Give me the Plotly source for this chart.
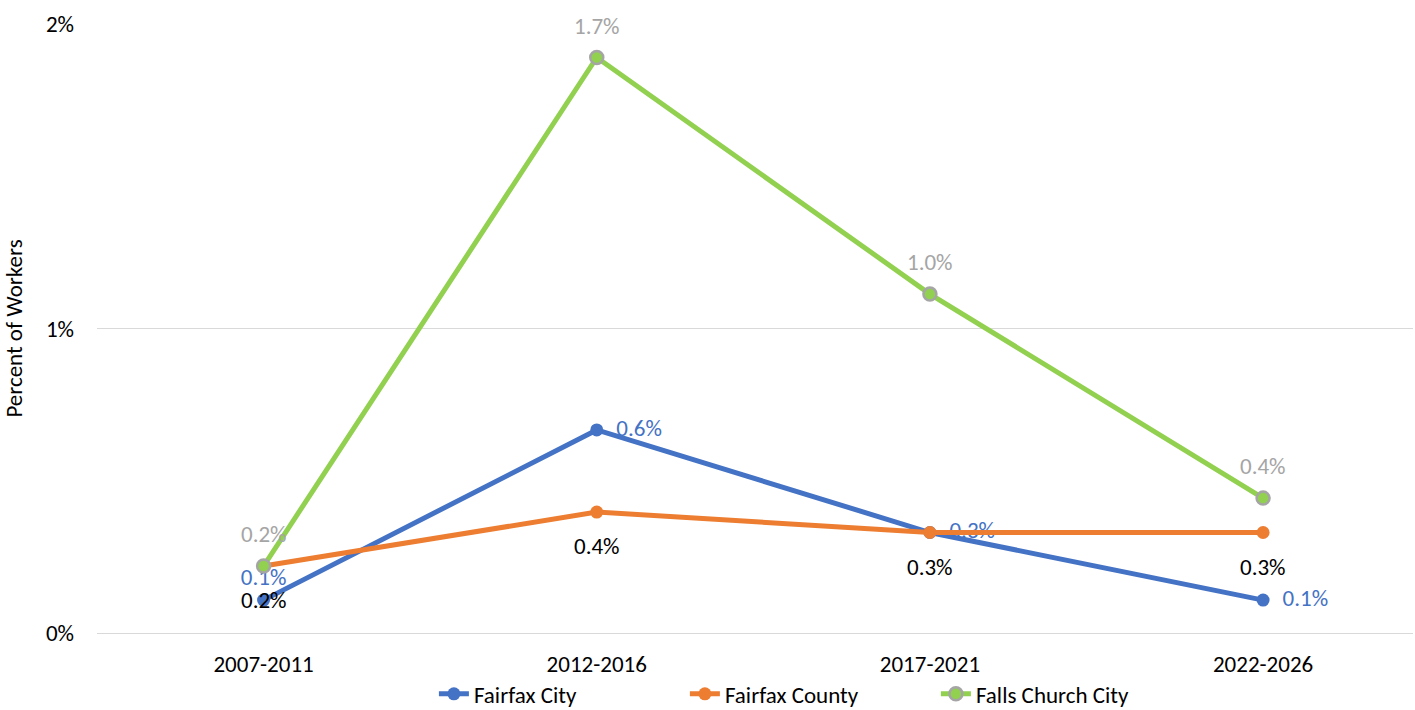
import plotly.graph_objects as go

periods = ["2007-2011", "2012-2016", "2017-2021", "2022-2026"]
fairfax_city = [0.108, 0.667, 0.33, 0.108]
fairfax_city_labels = ["0.1%", "0.6%", "0.3%", "0.1%"]
fairfax_county = [0.22, 0.397, 0.33, 0.33]
fairfax_county_labels = ["0.2%", "0.4%", "0.3%", "0.3%"]
falls_church = [0.22, 1.89, 1.113, 0.443]
falls_church_labels = ["0.2%", "1.7%", "1.0%", "0.4%"]

FONT = "Carlito, Calibri, Lato, sans-serif"
FS = 23

fig = go.Figure()
fig.add_trace(go.Scatter(
    x=periods, y=fairfax_city, name="Fairfax City", mode="lines+markers+text",
    line=dict(color="#4472C4", width=5), marker=dict(size=13, color="#4472C4"),
    text=[t if i == 0 else "  " + t for i, t in enumerate(fairfax_city_labels)],
    textposition=["top center", "middle right", "middle right", "middle right"],
    textfont=dict(color="#4472C4", size=FS, family=FONT),
))
fig.add_trace(go.Scatter(
    x=periods, y=fairfax_county, name="Fairfax County", mode="lines+markers",
    line=dict(color="#ED7D31", width=5), marker=dict(size=13, color="#ED7D31"),
))
fig.add_trace(go.Scatter(
    x=periods, y=falls_church, name="Falls Church City", mode="lines+markers",
    line=dict(color="#92D050", width=5),
    marker=dict(size=13, color="#92D050", line=dict(color="#A5A5A5", width=2.5)),
))

annotations = []
for p, v, t in zip(periods, fairfax_county, fairfax_county_labels):
    annotations.append(dict(x=p, y=v, text=t, showarrow=False, yshift=-34,
                            font=dict(color="#000000", size=FS, family=FONT)))
for p, v, t in zip(periods, falls_church, falls_church_labels):
    annotations.append(dict(x=p, y=v, text=t, showarrow=False, yshift=32,
                            font=dict(color="#A5A5A5", size=FS, family=FONT)))

fig.update_layout(
    width=1415, height=710,
    margin=dict(l=97, r=2, t=24, b=77, autoexpand=False),
    paper_bgcolor="white", plot_bgcolor="white",
    font=dict(family=FONT, size=FS, color="#000000"),
    showlegend=True,
    annotations=annotations,
    legend=dict(orientation="h", x=0.256, xanchor="left", y=-0.1, yanchor="middle",
                bgcolor="rgba(0,0,0,0)",
                font=dict(size=FS, family=FONT), itemwidth=30, tracegroupgap=0,
                entrywidth=206, entrywidthmode="pixels"),
)
fig.update_xaxes(
    type="category", range=[-0.5, 3.45], showgrid=False, showline=False,
    ticks="", ticklabelstandoff=15, tickfont=dict(size=FS, family=FONT), zeroline=False,
)
fig.update_yaxes(
    range=[0, 2], tickvals=[0, 1, 2], ticktext=["0%", "1%", "2%"],
    showgrid=True, gridcolor="#D9D9D9", gridwidth=1, zeroline=True,
    zerolinecolor="#D9D9D9", zerolinewidth=1, showline=False,
    ticks="", ticklabelstandoff=22, tickfont=dict(size=FS, family=FONT),
    title=dict(text="Percent of Workers", font=dict(size=FS, family=FONT), standoff=22),
)

fig.write_html("out.html", config={"displayModeBar": False},
               post_script="document.body.style.margin='0';")
